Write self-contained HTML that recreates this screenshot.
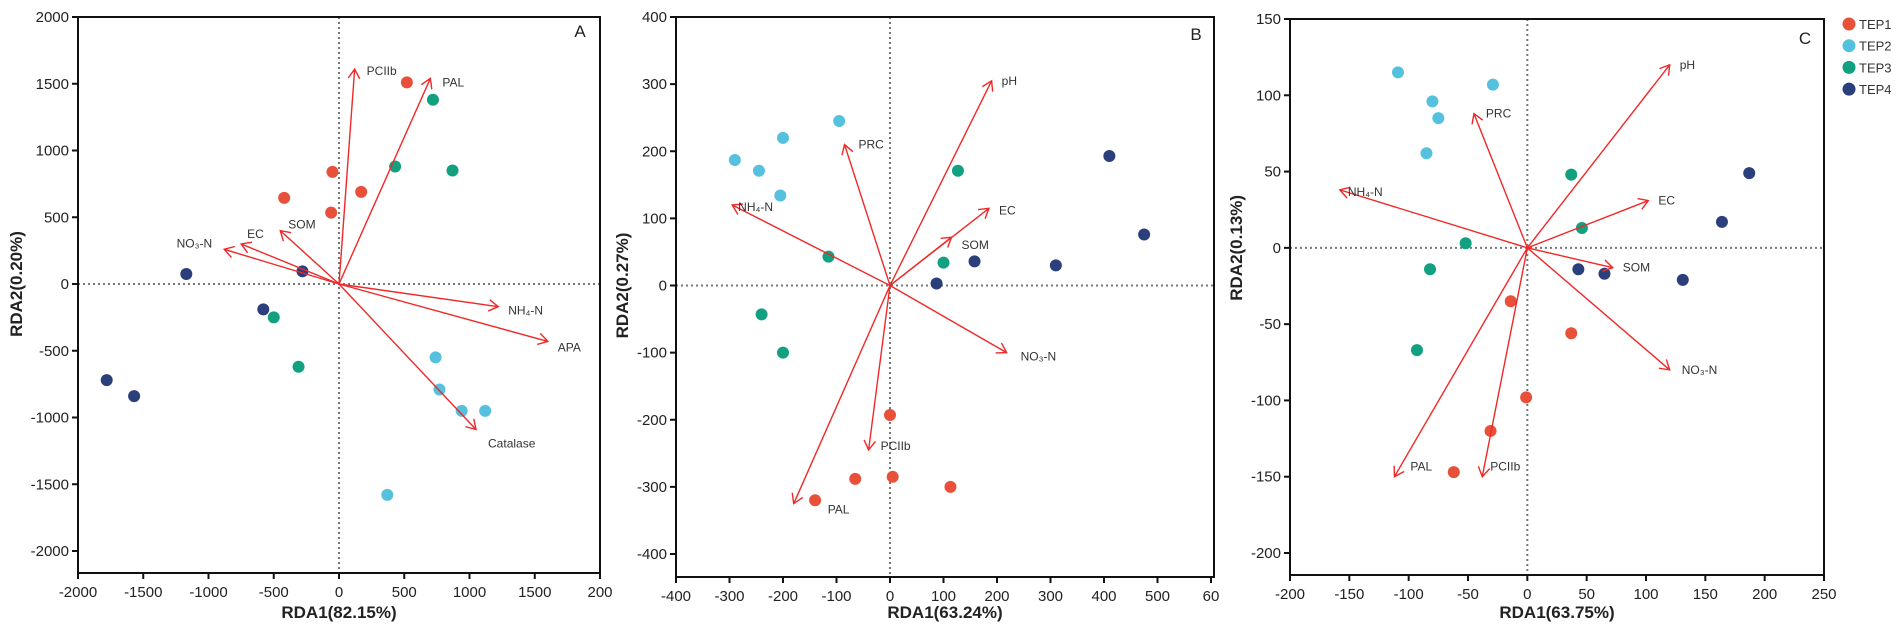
<!DOCTYPE html>
<html><head><meta charset="utf-8">
<style>
html,body{margin:0;padding:0;background:#fff;}
svg{display:block;font-family:"Liberation Sans",Arial,sans-serif;}
</style></head>
<body>
<svg id="chart" width="1902" height="628" viewBox="0 0 1902 628" xmlns="http://www.w3.org/2000/svg"></svg>
<script>
const groups = ["TEP1","TEP2","TEP3","TEP4"];
const groupColors = ["#e8503a","#56c1df","#12a180","#2c3f7d"];

// Panel A
const aXTicks = [-2000,-1500,-1000,-500,0,500,1000,1500,2000];
const aYTicks = [2000,1500,1000,500,0,-500,-1000,-1500,-2000];
const aPointsX = [[520,-50,170,-420,-60],[740,770,940,1120,370],[720,430,870,-500,-310],[-1170,-280,-580,-1780,-1570]];
const aPointsY = [[1510,840,690,645,535],[-550,-790,-950,-950,-1580],[1380,880,850,-250,-620],[75,95,-190,-720,-840]];
const aVarNames = ["PCIIb","PAL","NO₃-N","EC","SOM","NH₄-N","APA","Catalase"];
const aVarX = [120,700,-880,-750,-450,1220,1600,1050];
const aVarY = [1610,1540,260,300,400,-170,-430,-1090];

// Panel B
const bXTicks = [-400,-300,-200,-100,0,100,200,300,400,500,600];
const bYTicks = [400,300,200,100,0,-100,-200,-300,-400];
const bPointsX = [[0,-65,5,113,-140],[-95,-200,-290,-245,-205],[127,-115,100,-240,-200],[158,310,87,410,475]];
const bPointsY = [[-193,-288,-285,-300,-320],[245,220,187,171,134],[171,43,34,-43,-100],[36,30,3,193,76]];
const bVarNames = ["pH","PRC","NH₄-N","EC","SOM","NO₃-N","PCIIb","PAL"];
const bVarX = [190,-85,-295,185,115,218,-40,-180];
const bVarY = [305,210,120,115,72,-100,-245,-325];

// Panel C
const cXTicks = [-200,-150,-100,-50,0,50,100,150,200,250];
const cYTicks = [150,100,50,0,-50,-100,-150,-200];
const cPointsX = [[-14,37,-1,-31,-62],[-109,-29,-80,-75,-85],[37,46,-52,-82,-93],[187,164,43,65,131]];
const cPointsY = [[-35,-56,-98,-120,-147],[115,107,96,85,62],[48,13,3,-14,-67],[49,17,-14,-17,-21]];
const cVarNames = ["pH","PRC","NH₄-N","EC","SOM","NO₃-N","PAL","PCIIb"];
const cVarX = [120,-45,-158,102,72,120,-112,-38];
const cVarY = [120,88,38,31,-13,-80,-150,-150];

const NS = "http://www.w3.org/2000/svg";
const svg = document.getElementById("chart");
function mk(tag, attrs, parent){
  const e = document.createElementNS(NS, tag);
  for (const k in attrs) e.setAttribute(k, attrs[k]);
  (parent||svg).appendChild(e);
  return e;
}

const labelOffsets = {
  A:[[12,2],[12,4],[-12,-6],[6,-10],[8,-6],[10,4],[10,6],[12,14]],
  B:[[10,0],[14,0],[6,2],[10,2],[10,8],[14,4],[12,-4],[34,6]],
  C:[[10,0],[12,0],[8,2],[10,0],[10,0],[12,0],[16,-10],[8,-10]]
};
const labelAnchor = {
  A:["start","start","end","start","start","start","start","start"],
  B:["start","start","start","start","start","start","start","start"],
  C:["start","start","start","start","start","start","start","start"]
};

function panel(cfg){
  const g = mk("g", {});
  
  
  const sx = v => cfg.x0 + (v - cfg.xmin) / (cfg.xmax - cfg.xmin) * (cfg.x1 - cfg.x0);
  const sy = v => cfg.yTop + (cfg.ymax - v) / (cfg.ymax - cfg.ymin) * (cfg.yBot - cfg.yTop);
  const zx = mk("line", {x1:sx(0),x2:sx(0),y1:cfg.fy0,y2:cfg.fy1,stroke:"#777","stroke-width":2,"stroke-dasharray":"2,3"}, g);
  
  
  const zy = mk("line", {x1:cfg.fx0,x2:cfg.fx1,y1:sy(0),y2:sy(0),stroke:"#777","stroke-width":2,"stroke-dasharray":"2,3"}, g);
  
  
  const fr = mk("rect", {x:cfg.fx0,y:cfg.fy0,width:cfg.fx1-cfg.fx0,height:cfg.fy1-cfg.fy0,fill:"none",stroke:"#111","stroke-width":2}, g);
  
  
  cfg.xt.forEach(t => {
    const x = sx(t);
    const tk = mk("line", {x1:x,x2:x,y1:cfg.fy1,y2:cfg.fy1+6,stroke:"#111","stroke-width":2}, g);
    
    
    const lb = mk("text", {x:x,y:cfg.fy1+24,"text-anchor":"middle","font-size":15,fill:"#222"}, g);
    lb.textContent = cfg.xtl ? cfg.xtl(t) : t;
    
    
  });
  cfg.yt.forEach(t => {
    const y = sy(t);
    const tk = mk("line", {x1:cfg.fx0-6,x2:cfg.fx0,y1:y,y2:y,stroke:"#111","stroke-width":2}, g);
    
    
    const lb = mk("text", {x:cfg.fx0-9,y:y+5,"text-anchor":"end","font-size":15,fill:"#222"}, g);
    lb.textContent = t;
    
    
  });
  const xt = mk("text", {x:cfg.xtx,y:618,"text-anchor":"middle","font-size":17,"font-weight":"bold",fill:"#222"}, g);
  xt.textContent = cfg.xTitle;
  
  
  const yt = mk("text", {x:0,y:0,"text-anchor":"middle","font-size":17,"font-weight":"bold",fill:"#222",transform:`translate(${cfg.ytx},${sy(0)}) rotate(-90)`}, g);
  yt.textContent = cfg.yTitle;
  
  
  const pl = mk("text", {x:cfg.lx,y:cfg.ly,"text-anchor":"middle","font-size":17,fill:"#222"}, g);
  pl.textContent = cfg.id;
  
  
  cfg.px.forEach((arr, gi) => {
    arr.forEach((v, i) => {
      const c = mk("circle", {cx:sx(v),cy:sy(cfg.py[gi][i]),r:6,fill:groupColors[gi]}, g);
      
      
    });
  });
  const ox = sx(0), oy = sy(0);
  cfg.vn.forEach((name, i) => {
    const tx = sx(cfg.vx[i]), ty = sy(cfg.vy[i]);
    const ang = Math.atan2(ty-oy, tx-ox);
    const L = 11, spread = 0.55;
    const h1x = tx - L*Math.cos(ang-spread), h1y = ty - L*Math.sin(ang-spread);
    const h2x = tx - L*Math.cos(ang+spread), h2y = ty - L*Math.sin(ang+spread);
    const a = mk("path", {d:`M${ox},${oy}L${tx},${ty}M${h1x},${h1y}L${tx},${ty}L${h2x},${h2y}`,stroke:"#f02828","stroke-width":1.4,fill:"none"}, g);
    
    
    const off = labelOffsets[cfg.id][i];
    const t = mk("text", {x:tx+off[0],y:ty+off[1]+4,"text-anchor":labelAnchor[cfg.id][i],"font-size":12,fill:"#333"}, g);
    t.textContent = name;
    
    
  });
}

panel({id:"A",xmin:-2000,xmax:2000,x0:78,x1:600,ymin:-2000,ymax:2000,yTop:17,yBot:551,
  fx0:78,fx1:600,fy0:17,fy1:573,xt:aXTicks,yt:aYTicks,xtl:t=>t===2000?"200":t,
  px:aPointsX,py:aPointsY,vn:aVarNames,vx:aVarX,vy:aVarY,
  xTitle:"RDA1(82.15%)",yTitle:"RDA2(0.20%)",xtx:339,ytx:22,lx:580,ly:37});
panel({id:"B",xmin:-400,xmax:600,x0:676,x1:1211,ymin:-400,ymax:400,yTop:17,yBot:554,
  fx0:676,fx1:1214,fy0:17,fy1:577,xt:bXTicks,yt:bYTicks,xtl:t=>t===600?"60":t,
  px:bPointsX,py:bPointsY,vn:bVarNames,vx:bVarX,vy:bVarY,
  xTitle:"RDA1(63.24%)",yTitle:"RDA2(0.27%)",xtx:945,ytx:628,lx:1196,ly:40});
panel({id:"C",xmin:-200,xmax:250,x0:1290,x1:1824,ymin:-200,ymax:150,yTop:19,yBot:553,
  fx0:1290,fx1:1824,fy0:19,fy1:575,xt:cXTicks,yt:cYTicks,
  px:cPointsX,py:cPointsY,vn:cVarNames,vx:cVarX,vy:cVarY,
  xTitle:"RDA1(63.75%)",yTitle:"RDA2(0.13%)",xtx:1557,ytx:1242,lx:1805,ly:44});

const lg = mk("g", {});


groups.forEach((name, i) => {
  const y = 24 + i*21.7;
  const c = mk("circle", {cx:1849,cy:y,r:6.5,fill:groupColors[i]}, lg);
  
  
  const t = mk("text", {x:1859,y:y+5,"font-size":13,fill:"#333"}, lg);
  t.textContent = name;
  
  
});
</script>
</body></html>
